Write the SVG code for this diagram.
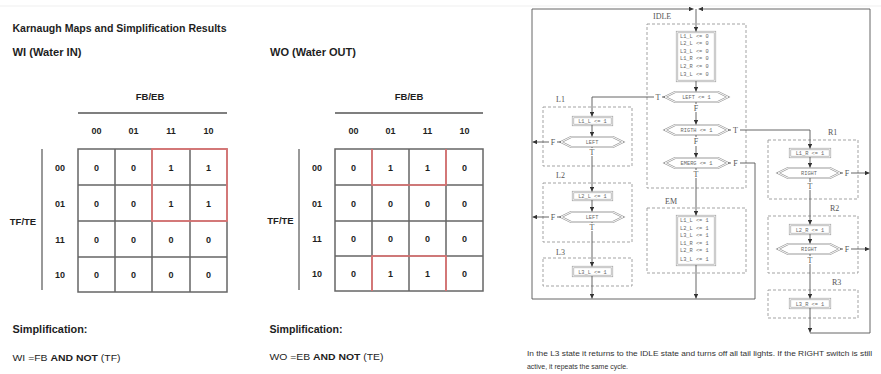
<svg xmlns="http://www.w3.org/2000/svg" width="881" height="374" viewBox="0 0 881 374">
<defs>
<style>
.t{font-family:"Liberation Sans",Arial,sans-serif;fill:#1e1e1e}
.b{font-weight:bold}
.cell{font-family:"Liberation Sans",Arial,sans-serif;font-weight:bold;font-size:9px;fill:#1e1e1e;text-anchor:middle}
.grid{fill:none;stroke:#666;stroke-width:1.5}
.red{fill:none;stroke:#e57373;stroke-width:1.6}
.bar{stroke:#999;stroke-width:2}
.dash{fill:none;stroke:#999;stroke-width:0.9;stroke-dasharray:3,2}
.dbl{fill:#fff;stroke:#999;stroke-width:2.2}
.dbli{fill:none;stroke:#fff;stroke-width:1}
.ln{fill:none;stroke:#555;stroke-width:0.9}
.ser{font-family:"Liberation Serif","Times New Roman",serif;font-size:8px;fill:#555}
.mono{font-family:"Liberation Mono","Courier New",monospace;font-size:5.3px;fill:#666}
.mc{text-anchor:middle}
.bt{font-family:"Liberation Sans",Arial,sans-serif;font-size:7.5px;fill:#333}
</style>
<marker id="ah" viewBox="0 0 6 6" refX="6" refY="3" markerWidth="4.5" markerHeight="4.5" orient="auto" markerUnits="userSpaceOnUse"><path d="M0,0 L6,3 L0,6 z" fill="#333"/></marker>
</defs>
<rect width="881" height="374" fill="#fff"/>
<line x1="0" y1="6" x2="881" y2="6" stroke="#efefef" stroke-width="1"/>

<!-- Left panel: K-maps -->
<g id="header">
<text class="t b" x="12.5" y="32" font-size="10.5" textLength="214" lengthAdjust="spacingAndGlyphs">Karnaugh Maps and Simplification Results</text>
</g>

<g id="kmap-wi">
<text class="t b" x="12.5" y="56" font-size="10.5" textLength="69" lengthAdjust="spacingAndGlyphs">WI (Water IN)</text>
<text class="t b" x="150" y="100" font-size="9.5" text-anchor="middle">FB/EB</text>
<line x1="78" y1="113" x2="227" y2="113" stroke="#555" stroke-width="1.5"/>
<text class="cell" x="96.5" y="134">00</text><text class="cell" x="133.5" y="134">01</text><text class="cell" x="171" y="134">11</text><text class="cell" x="208.5" y="134">10</text>
<line class="bar" x1="42" y1="149" x2="42" y2="290"/>
<text class="t b" x="23" y="225" font-size="9.5" text-anchor="middle">TF/TE</text>
<text class="cell" x="60" y="171">00</text><text class="cell" x="60" y="207">01</text><text class="cell" x="60" y="243">11</text><text class="cell" x="60" y="278">10</text>
<rect class="grid" x="78" y="149" width="149" height="143"/>
<path class="grid" d="M115,149V292M152,149V292M190,149V292M78,185H227M78,221H227M78,257H227"/>
<rect class="red" x="152" y="149" width="75" height="72"/>
<text class="cell" x="96.5" y="171">0</text><text class="cell" x="133.5" y="171">0</text><text class="cell" x="171" y="171">1</text><text class="cell" x="208.5" y="171">1</text>
<text class="cell" x="96.5" y="207">0</text><text class="cell" x="133.5" y="207">0</text><text class="cell" x="171" y="207">1</text><text class="cell" x="208.5" y="207">1</text>
<text class="cell" x="96.5" y="243">0</text><text class="cell" x="133.5" y="243">0</text><text class="cell" x="171" y="243">0</text><text class="cell" x="208.5" y="243">0</text>
<text class="cell" x="96.5" y="278">0</text><text class="cell" x="133.5" y="278">0</text><text class="cell" x="171" y="278">0</text><text class="cell" x="208.5" y="278">0</text>
<text class="t b" x="12.5" y="333" font-size="10" textLength="75" lengthAdjust="spacingAndGlyphs">Simplification:</text>
<text class="t" x="12.5" y="361" font-size="9.5" textLength="108" lengthAdjust="spacingAndGlyphs">WI =FB <tspan class="b">AND NOT</tspan> (TF)</text>
</g>

<g id="kmap-wo">
<text class="t b" x="270" y="56" font-size="10.5" textLength="86" lengthAdjust="spacingAndGlyphs">WO (Water OUT)</text>
<text class="t b" x="409" y="100" font-size="9.5" text-anchor="middle">FB/EB</text>
<line x1="335" y1="113" x2="483" y2="113" stroke="#555" stroke-width="1.5"/>
<text class="cell" x="353.5" y="134">00</text><text class="cell" x="390.5" y="134">01</text><text class="cell" x="427.5" y="134">11</text><text class="cell" x="464.5" y="134">10</text>
<line class="bar" x1="299" y1="149" x2="299" y2="290"/>
<text class="t b" x="280.5" y="224" font-size="9.5" text-anchor="middle">TF/TE</text>
<text class="cell" x="317" y="171">00</text><text class="cell" x="317" y="207">01</text><text class="cell" x="317" y="242">11</text><text class="cell" x="317" y="277">10</text>
<rect class="grid" x="335" y="149" width="148" height="142"/>
<path class="grid" d="M372,149V291M409,149V291M446,149V291M335,185H483M335,221H483M335,256H483"/>
<path class="red" d="M372,149V185H446V149M372,291V256H446V291"/>
<text class="cell" x="353.5" y="171">0</text><text class="cell" x="390.5" y="171">1</text><text class="cell" x="427.5" y="171">1</text><text class="cell" x="464.5" y="171">0</text>
<text class="cell" x="353.5" y="207">0</text><text class="cell" x="390.5" y="207">0</text><text class="cell" x="427.5" y="207">0</text><text class="cell" x="464.5" y="207">0</text>
<text class="cell" x="353.5" y="242">0</text><text class="cell" x="390.5" y="242">0</text><text class="cell" x="427.5" y="242">0</text><text class="cell" x="464.5" y="242">0</text>
<text class="cell" x="353.5" y="277">0</text><text class="cell" x="390.5" y="277">1</text><text class="cell" x="427.5" y="277">1</text><text class="cell" x="464.5" y="277">0</text>
<text class="t b" x="269.5" y="333" font-size="10" textLength="73" lengthAdjust="spacingAndGlyphs">Simplification:</text>
<text class="t" x="269.5" y="360" font-size="9.5" textLength="114" lengthAdjust="spacingAndGlyphs">WO =EB <tspan class="b">AND NOT</tspan> (TE)</text>
</g>

<!-- Right panel: state diagram -->
<g id="state-idle">
<rect class="dash" x="647" y="24" width="99" height="164"/>
<text class="ser" x="653" y="19">IDLE</text>
<rect class="dbl" x="677" y="32" width="38" height="49"/><rect class="dbli" x="677" y="32" width="38" height="49"/>
<text class="mono" x="680" y="37.5">L1_L &lt;= 0</text>
<text class="mono" x="680" y="45">L2_L &lt;= 0</text>
<text class="mono" x="680" y="52.5">L3_L &lt;= 0</text>
<text class="mono" x="680" y="60">L1_R &lt;= 0</text>
<text class="mono" x="680" y="67.5">L2_R &lt;= 0</text>
<text class="mono" x="680" y="76">L3_L &lt;= 0</text>
<polygon class="dbl" points="665,97 675,92 718,92 728,97 718,102 675,102"/><polygon class="dbli" points="665,97 675,92 718,92 728,97 718,102 675,102"/>
<text class="mono mc" x="696.5" y="99">LEFT &lt;= 1</text>
<polygon class="dbl" points="665,130 675,125 718,125 728,130 718,135 675,135"/><polygon class="dbli" points="665,130 675,125 718,125 728,130 718,135 675,135"/>
<text class="mono mc" x="696.5" y="132">RIGTH &lt;= 1</text>
<polygon class="dbl" points="665,163 675,158 718,158 728,163 718,168 675,168"/><polygon class="dbli" points="665,163 675,158 718,158 728,163 718,168 675,168"/>
<text class="mono mc" x="696.5" y="165">EMERG &lt;= 1</text>
</g>

<g id="state-l1">
<rect class="dash" x="543" y="107" width="89" height="59"/>
<text class="ser" x="556" y="102">L1</text>
<rect class="dbl" x="573" y="117" width="39" height="8"/><rect class="dbli" x="573" y="117" width="39" height="8"/>
<text class="mono mc" x="592.5" y="123">L1_L &lt;= 1</text>
<polygon class="dbl" points="561,142 571,137 613,137 623,142 613,147 571,147"/><polygon class="dbli" points="561,142 571,137 613,137 623,142 613,147 571,147"/>
<text class="mono mc" x="592" y="144">LEFT</text>
</g>

<g id="state-l2">
<rect class="dash" x="543" y="183" width="89" height="59"/>
<text class="ser" x="556" y="178">L2</text>
<rect class="dbl" x="573" y="192" width="39" height="8"/><rect class="dbli" x="573" y="192" width="39" height="8"/>
<text class="mono mc" x="592.5" y="198">L2_L &lt;= 1</text>
<polygon class="dbl" points="561,217 571,212 613,212 623,217 613,222 571,222"/><polygon class="dbli" points="561,217 571,212 613,212 623,217 613,222 571,222"/>
<text class="mono mc" x="592" y="219">LEFT</text>
</g>

<g id="state-l3">
<rect class="dash" x="543" y="258" width="89" height="28"/>
<text class="ser" x="556" y="255">L3</text>
<rect class="dbl" x="573" y="267" width="39" height="9"/><rect class="dbli" x="573" y="267" width="39" height="9"/>
<text class="mono mc" x="592.5" y="273.5">L3_L &lt;= 1</text>
</g>

<g id="state-em">
<rect class="dash" x="647" y="208" width="99" height="65"/>
<text class="ser" x="665" y="204">EM</text>
<rect class="dbl" x="677" y="216" width="38" height="49"/><rect class="dbli" x="677" y="216" width="38" height="49"/>
<text class="mono" x="680" y="222">L1_L &lt;= 1</text>
<text class="mono" x="680" y="229.5">L2_L &lt;= 1</text>
<text class="mono" x="680" y="237">L3_L &lt;= 1</text>
<text class="mono" x="680" y="244.5">L1_R &lt;= 1</text>
<text class="mono" x="680" y="252">L2_R &lt;= 1</text>
<text class="mono" x="680" y="260.5">L3_L &lt;= 1</text>
</g>

<g id="state-r1">
<rect class="dash" x="768" y="140" width="90" height="59"/>
<text class="ser" x="828" y="135">R1</text>
<rect class="dbl" x="790" y="149" width="40" height="8"/><rect class="dbli" x="790" y="149" width="40" height="8"/>
<text class="mono mc" x="810" y="155">L1_R &lt;= 1</text>
<polygon class="dbl" points="778,173 788,168 830,168 840,173 830,178 788,178"/><polygon class="dbli" points="778,173 788,168 830,168 840,173 830,178 788,178"/>
<text class="mono mc" x="809" y="175">RIGHT</text>
</g>

<g id="state-r2">
<rect class="dash" x="768" y="216" width="90" height="57"/>
<text class="ser" x="830" y="211">R2</text>
<rect class="dbl" x="790" y="225" width="40" height="9"/><rect class="dbli" x="790" y="225" width="40" height="9"/>
<text class="mono mc" x="810" y="231.5">L2_R &lt;= 1</text>
<polygon class="dbl" points="778,249 788,244 830,244 840,249 830,254 788,254"/><polygon class="dbli" points="778,249 788,244 830,244 840,249 830,254 788,254"/>
<text class="mono mc" x="809" y="251">RIGHT</text>
</g>

<g id="state-r3">
<rect class="dash" x="768" y="290" width="90" height="28"/>
<text class="ser" x="832" y="285">R3</text>
<rect class="dbl" x="790" y="299" width="40" height="9"/><rect class="dbli" x="790" y="299" width="40" height="9"/>
<text class="mono mc" x="810" y="305.5">L3_R &lt;= 1</text>
</g>

<g id="connectors">
<path class="ln" d="M740,163H755V299H532V9H693.5" marker-end="url(#ah)"/>
<path class="ln" d="M810,308V332.5" marker-end="url(#ah)"/>
<path class="ln" d="M810,333H870V9H698.5" marker-end="url(#ah)"/>
<path class="ln" d="M696,9V31.5" marker-end="url(#ah)"/>
<path class="ln" d="M696,81V91.5" marker-end="url(#ah)"/>
<path class="ln" d="M665,97H662"/>
<path class="ln" d="M654,97H592V116.5" marker-end="url(#ah)"/>
<path class="ln" d="M696,102V104"/>
<path class="ln" d="M696,112V124.5" marker-end="url(#ah)"/>
<path class="ln" d="M728,130H731"/>
<path class="ln" d="M740,130H810V148.5" marker-end="url(#ah)"/>
<path class="ln" d="M696,135V137"/>
<path class="ln" d="M696,146V157.5" marker-end="url(#ah)"/>
<path class="ln" d="M728,163H731"/>
<path class="ln" d="M696,168V170"/>
<path class="ln" d="M696,178V215.5" marker-end="url(#ah)"/>
<path class="ln" d="M696,265V298.5" marker-end="url(#ah)"/>
<path class="ln" d="M592,125V136.5" marker-end="url(#ah)"/>
<path class="ln" d="M561,142H557"/>
<path class="ln" d="M549,142H532.5" marker-end="url(#ah)"/>
<path class="ln" d="M592,147V148"/>
<path class="ln" d="M592,156V191.5" marker-end="url(#ah)"/>
<path class="ln" d="M592,200V211.5" marker-end="url(#ah)"/>
<path class="ln" d="M561,217H557"/>
<path class="ln" d="M549,217H532.5" marker-end="url(#ah)"/>
<path class="ln" d="M592,222V223"/>
<path class="ln" d="M592,231V266.5" marker-end="url(#ah)"/>
<path class="ln" d="M592,276V298.5" marker-end="url(#ah)"/>
<path class="ln" d="M810,157V167.5" marker-end="url(#ah)"/>
<path class="ln" d="M840,173H843"/>
<path class="ln" d="M851,173H869.5" marker-end="url(#ah)"/>
<path class="ln" d="M810,178V182"/>
<path class="ln" d="M810,190V224.5" marker-end="url(#ah)"/>
<path class="ln" d="M810,234V243.5" marker-end="url(#ah)"/>
<path class="ln" d="M840,249H843"/>
<path class="ln" d="M851,249H869.5" marker-end="url(#ah)"/>
<path class="ln" d="M810,254V256"/>
<path class="ln" d="M810,264V298.5" marker-end="url(#ah)"/>
<text class="ser mc" x="658" y="100">T</text>
<text class="ser mc" x="696" y="111">F</text>
<text class="ser mc" x="735.5" y="133">T</text>
<text class="ser mc" x="696" y="144">F</text>
<text class="ser mc" x="735.5" y="166">F</text>
<text class="ser mc" x="696" y="177">T</text>
<text class="ser mc" x="553" y="145">F</text>
<text class="ser mc" x="592" y="155">T</text>
<text class="ser mc" x="553" y="220">F</text>
<text class="ser mc" x="592" y="230">T</text>
<text class="ser mc" x="847" y="176">F</text>
<text class="ser mc" x="810" y="189">T</text>
<text class="ser mc" x="847" y="252">F</text>
<text class="ser mc" x="810" y="263">T</text>
</g>

<g id="caption">
<text class="bt" x="527" y="356" textLength="345" lengthAdjust="spacingAndGlyphs">In the L3 state it returns to the IDLE state and turns off all tail lights. If the RIGHT switch is still</text>
<text class="bt" x="527" y="369" textLength="101" lengthAdjust="spacingAndGlyphs">active, it repeats the same cycle.</text>
</g>
</svg>
